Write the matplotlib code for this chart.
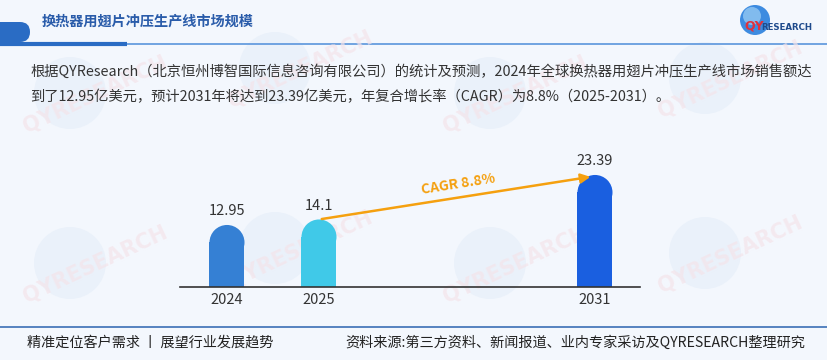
import matplotlib
matplotlib.use("Agg")
import matplotlib.pyplot as plt
from matplotlib.patches import Ellipse, FancyBboxPatch, Circle

plt.rcParams['font.family'] = ['Noto Sans CJK SC', 'DejaVu Sans']

# data
years = ["2024", "2025", "2031"]
positions = [0, 1, 4]
values = [12.95, 14.1, 23.39]
value_labels = ["12.95", "14.1", "23.39"]
bar_colors = ["#3580d4", "#40c9e8", "#1a5fe0"]
cagr_label = "CAGR 8.8%"

title = "换热器用翅片冲压生产线市场规模"
para_1 = "根据QYResearch（北京恒州博智国际信息咨询有限公司）的统计及预测，2024年全球换热器用翅片冲压生产线市场销售额达"
para_2 = "到了12.95亿美元，预计2031年将达到23.39亿美元，年复合增长率（CAGR）为8.8%（2025-2031）。"
foot_left = "精准定位客户需求 丨 展望行业发展趋势"
foot_right = "资料来源:第三方资料、新闻报道、业内专家采访及QYRESEARCH整理研究"

W, H = 828, 360
BG = "#f3f7fd"

fig = plt.figure(figsize=(W / 100, H / 100), dpi=100)
fig.patch.set_facecolor(BG)

# overlay axes in pixel coords (y down)
deco = fig.add_axes([0, 0, 1, 1])
deco.set_xlim(0, W)
deco.set_ylim(H, 0)
deco.axis("off")
deco.set_facecolor("none")

# faint watermarks
for wx, wy in [(95, 85), (300, 60), (515, 85), (730, 70), (95, 255), (300, 240), (515, 255), (730, 245)]:
    deco.add_patch(Circle((wx - 25, wy + 8), 36, color="#e4edf9", alpha=0.6, lw=0))
    deco.text(wx, wy + 10, "QYRESEARCH", color="#f4e4ea", fontsize=15, fontweight="bold",
              rotation=25, ha="center", va="center", alpha=0.7, family="DejaVu Sans")

# header
deco.add_patch(FancyBboxPatch((-20, 22), 50, 20, boxstyle="round,pad=0,rounding_size=10",
                              color="#2a6cc4", lw=0))
deco.plot([0, 828], [44, 44], color="#5a95dc", lw=1.2, solid_capstyle="butt")
deco.plot([0, 127], [44, 44], color="#2a6cc4", lw=3, solid_capstyle="butt")
deco.text(42, 22, title, fontsize=10.2, fontweight="bold", color="#2a5caa", va="center")

# logo
deco.add_patch(Circle((755, 20), 15, color="#3d8be0", lw=0))
deco.add_patch(Circle((752, 16), 9, color="#9fd0f5", lw=0, alpha=0.7))
deco.text(744, 26, "QY", fontsize=9, fontweight="bold", color="#e0323c", va="center",
          family="DejaVu Sans")
deco.text(761, 27, "RESEARCH", fontsize=6.2, fontweight="bold", color="#1e4a8c", va="center",
          family="DejaVu Sans")

# paragraph
deco.text(30, 72, para_1, fontsize=10.3, color="#333333", va="center")
deco.text(30, 97, para_2, fontsize=10.3, color="#333333", va="center")

# footer
deco.plot([0, 828], [327, 327], color="#3b6fb5", lw=1.2)
deco.text(27, 343, foot_left, fontsize=10.2, color="#222222", va="center")
deco.text(805, 343, foot_right, fontsize=10.2, color="#222222", va="center", ha="right")

# chart axes
x0_px, x1_px, base_px, top_px = 180, 640, 287, 150
ax = fig.add_axes([x0_px / W, (H - base_px) / H, (x1_px - x0_px) / W, (base_px - top_px) / H])
ax.set_facecolor("none")
px_per_x = 92.0
px_per_y = 4.79
ax.set_xlim(-(227 - x0_px) / px_per_x, (x1_px - 227) / px_per_x)
ax.set_ylim(0, (base_px - top_px) / px_per_y)

bw = 35 / px_per_x
r_y = (35 / 2) / px_per_y
for p, v, c, lab in zip(positions, values, bar_colors, value_labels):
    ax.bar(p, v - r_y, width=bw, color=c, lw=0)
    ax.add_patch(Ellipse((p, v - r_y), bw, 2 * r_y, color=c, lw=0))
    ax.text(p, v + 1.4, lab, ha="center", va="bottom", fontsize=10.5, color="#333333")

# CAGR arrow
ax.annotate("", xy=(positions[2] - 0.02, values[2] - 0.3), xytext=(positions[1], values[1]),
            arrowprops=dict(arrowstyle="-|>", color="#f5a00f", lw=1.8, mutation_scale=14))
ax.text(2.1, 21.4, cagr_label, color="#f5a00f", fontsize=10, fontweight="bold",
        rotation=9, ha="left", va="center")

for s in ["top", "right", "left"]:
    ax.spines[s].set_visible(False)
ax.spines["bottom"].set_color("#333333")
ax.spines["bottom"].set_linewidth(1.2)
ax.set_yticks([])
ax.set_xticks(positions)
ax.set_xticklabels(years, fontsize=10.5, color="#333333")
ax.tick_params(axis="x", length=0, pad=4)

fig.savefig("out.png", dpi=100, facecolor=BG)
